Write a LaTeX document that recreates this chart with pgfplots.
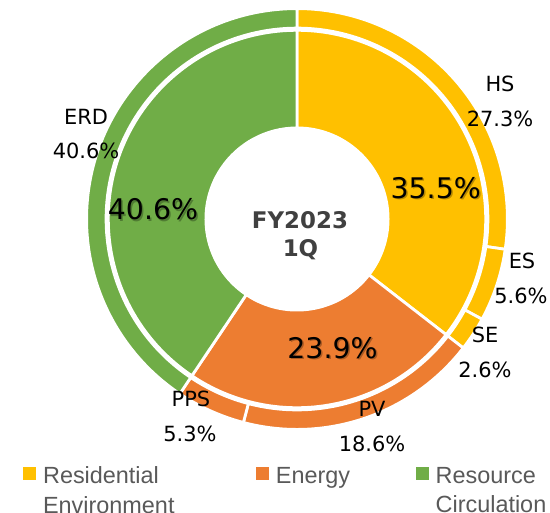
\documentclass[border=0pt]{standalone}
\usepackage{fontspec}
\setmainfont{DejaVu Sans}
\newfontfamily\legfont{Liberation Sans}
\usepackage{pgfplots}
\usepackage{pgfplotstable}
\pgfplotsset{compat=1.18}
\definecolor{cY}{HTML}{FFC000}
\definecolor{cO}{HTML}{ED7D31}
\definecolor{cG}{HTML}{70AD47}
\definecolor{ctr}{HTML}{404040}
\definecolor{leg}{HTML}{595959}
\pgfdeclareplotmark{nothing}{}

% inner ring: segment groups (col: 0 yellow, 1 orange, 2 green)
\pgfplotstableread{
cx cy cum pct col
297 219 0 35.5 0
297 219 35.5 23.9 1
297 219 59.4 40.6 2
}\innerring
% outer ring: businesses
\pgfplotstableread{
cx cy cum pct col
297 219 0 27.3 0
297 219 27.3 5.6 0
297 219 32.9 2.6 0
297 219 35.5 18.6 1
297 219 54.1 5.3 1
297 219 59.4 40.6 2
}\outerring

\pgfplotsset{
  wedges/.style 2 args={scatter, only marks, mark=nothing, forget plot,
    visualization depends on={\thisrow{cum} \as \wcum},
    visualization depends on={\thisrow{pct} \as \wpct},
    visualization depends on={\thisrow{col} \as \wcol},
    scatter/@pre marker code/.code={%
      \pgfmathsetmacro\wa{90-3.6*\wcum}%
      \pgfmathsetmacro\wb{90-3.6*(\wcum+\wpct)}%
      \pgfmathtruncatemacro\wci{\wcol}%
      \ifcase\wci \def\wcolname{cY}\or \def\wcolname{cO}\else \def\wcolname{cG}\fi
      \fill[\wcolname, draw=white, line width=2.8bp]
        (\wa:#1bp) arc[start angle=\wa, end angle=\wb, radius=#1bp]
        -- (\wb:#2bp) arc[start angle=\wb, end angle=\wa, radius=#2bp] -- cycle;
    },
    scatter/@post marker code/.code={},
  },
}

\newcommand\labf{\fontsize{21}{25}\selectfont}
\newcommand\bigf{\fontsize{28.5}{32}\selectfont}
\newcommand\ctrf{\bfseries\fontsize{23}{27}\selectfont}

\begin{document}
\begin{tikzpicture}
\begin{axis}[hide axis, scale only axis, width=550bp, height=512bp,
  xmin=0, xmax=550, ymin=0, ymax=512, y dir=reverse, clip=false,
  legend columns=3,
  legend style={at={(axis cs:23.3,467)}, anchor=north west, draw=none, fill=none,
    inner sep=0pt, outer sep=0pt, row sep=0pt, column sep=0pt,
    nodes={inner sep=0pt, outer sep=0pt},
    font=\legfont\fontsize{23.5}{29.4}\selectfont, text=leg},
  legend cell align=left,
  legend image code/.code={\fill[#1] (0bp,-3bp) rectangle (12bp,8.7bp); \path (19.4bp,0bp);},
]
\addplot[wedges={91.1}{188.7}] table[x=cx, y=cy] {\innerring};
\addplot[wedges={190.9}{210.4}] table[x=cx, y=cy] {\outerring};

\addlegendimage{cY}
\addlegendentry[text width=213bp, align=left]{Residential\\Environment}
\addlegendimage{cO}
\addlegendentry[text width=140bp, align=left]{Energy}
\addlegendimage{cG}
\addlegendentry[text width=120bp, align=left]{Resource\\Circulation}

% anchor points for labels
\coordinate (hs1) at (axis cs:500,91.7);
\coordinate (hs2) at (axis cs:500,126.7);
\coordinate (es1) at (axis cs:522,268);
\coordinate (es2) at (axis cs:521,303);
\coordinate (se1) at (axis cs:485,342);
\coordinate (se2) at (axis cs:485,377);
\coordinate (pv1) at (axis cs:372,416.7);
\coordinate (pv2) at (axis cs:372,451.7);
\coordinate (pp1) at (axis cs:191,406.7);
\coordinate (pp2) at (axis cs:190,441.7);
\coordinate (er1) at (axis cs:86,125);
\coordinate (er2) at (axis cs:86,158.3);
\coordinate (b1) at (axis cs:435.7,198.3);
\coordinate (b2) at (axis cs:332.5,358.3);
\coordinate (b3) at (axis cs:153,220);
\coordinate (c1) at (axis cs:300,228.3);
\coordinate (c2) at (axis cs:300.5,256);
\end{axis}

\begin{scope}[every node/.style={anchor=base, inner sep=0pt}]
% outer ring labels
\node[font=\labf] at (hs1) {HS};
\node[font=\labf] at (hs2) {27.3\%};
\node[font=\labf] at (es1) {ES};
\node[font=\labf] at (es2) {5.6\%};
\node[font=\labf] at (se1) {SE};
\node[font=\labf] at (se2) {2.6\%};
\node[font=\labf] at (pv1) {PV};
\node[font=\labf] at (pv2) {18.6\%};
\node[font=\labf] at (pp1) {PPS};
\node[font=\labf] at (pp2) {5.3\%};
\node[font=\labf] at (er1) {ERD};
\node[font=\labf] at (er2) {40.6\%};
% inner ring labels with shadow
\foreach \p/\t in {b1/35.5, b2/23.9, b3/40.6}{
  \node[font=\bigf, text=black, opacity=0.28] at ([shift={(1.5bp,-1.5bp)}]\p) {\t\%};
  \node[font=\bigf] at (\p) {\t\%};
}
% centre
\node[font=\ctrf, text=ctr] at (c1) {FY2023};
\node[font=\ctrf, text=ctr] at (c2) {1Q};
\end{scope}

\pgfresetboundingbox
\path[use as bounding box] (current axis.south west) rectangle (current axis.north east);
\end{tikzpicture}
\end{document}
